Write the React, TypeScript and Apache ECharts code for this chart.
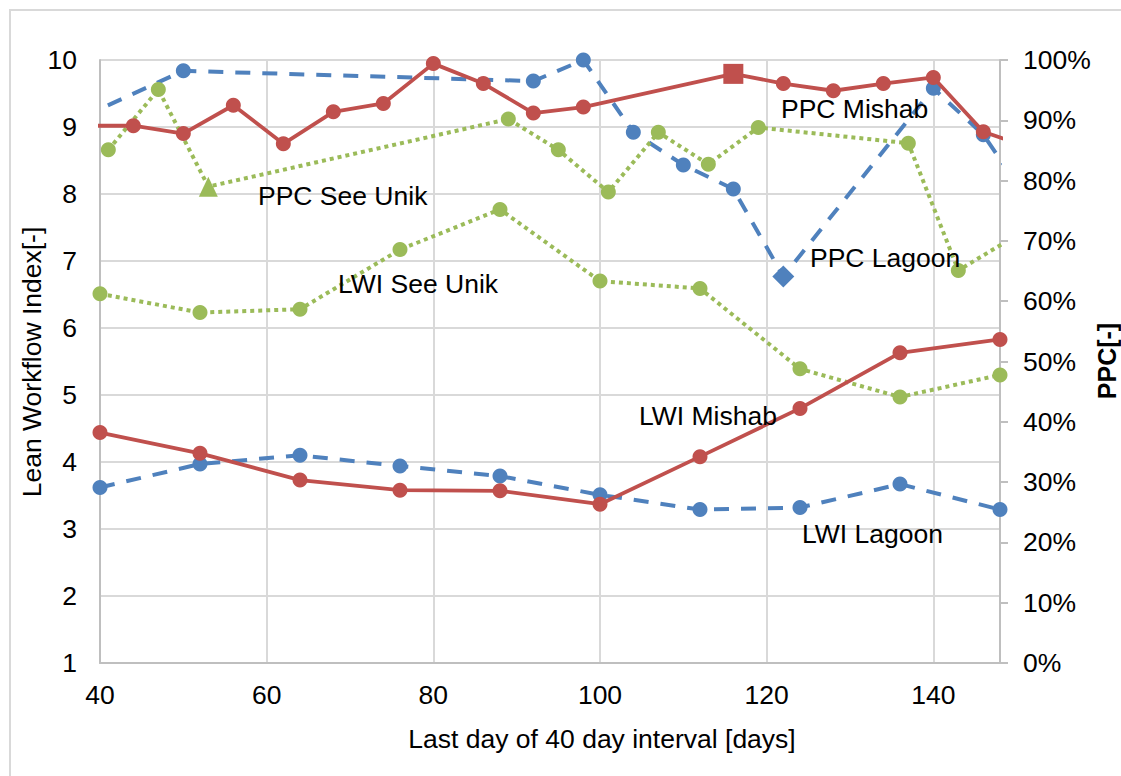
import React, { useEffect, useRef } from "react";
import * as echarts from "echarts";

// ---- Data ----
// PPC series (right axis, %)
const ppcMishabDays = [38, 44, 50, 56, 62, 68, 74, 80, 86, 92, 98, 116, 122, 128, 134, 140, 146, 152];
const ppcMishabValues = [89.1, 89.1, 87.8, 92.5, 86.1, 91.4, 92.8, 99.4, 96.1, 91.2, 92.2, 97.7, 96.1, 94.9, 96.1, 97.1, 88.1, 85.3];

const ppcLagoonDays = [38, 50, 92, 98, 104, 110, 116, 122, 140, 146, 152];
const ppcLagoonValues = [90.6, 98.2, 96.5, 100.0, 88.0, 82.6, 78.6, 64.1, 95.3, 87.6, 75.5];

const ppcSeeUnikDays = [41, 47, 53, 89, 95, 101, 107, 113, 119, 137, 143, 149];
const ppcSeeUnikValues = [85.1, 95.1, 79.0, 90.2, 85.1, 78.1, 88.0, 82.7, 88.8, 86.2, 65.1, 70.1];

// LWI series (left axis)
const lwiDays = [40, 52, 64, 76, 88, 100, 112, 124, 136, 148];
const lwiMishabValues = [4.44, 4.13, 3.73, 3.58, 3.57, 3.37, 4.08, 4.8, 5.63, 5.83];
const lwiLagoonValues = [3.62, 3.97, 4.1, 3.94, 3.79, 3.51, 3.29, 3.32, 3.67, 3.29];
const lwiSeeUnikValues = [6.51, 6.23, 6.28, 7.17, 7.77, 6.7, 6.59, 5.39, 4.97, 5.3];

// Highlighted points
const mishabSquareDay = 116;
const lagoonDiamondDay = 122;
const seeUnikTriangleDay = 53;

// Axis ranges
const xMin = 40;
const xMax = 148;
const xInterval = 20;
const lwiMin = 1;
const lwiMax = 10;
const ppcMin = 0;
const ppcMax = 100;

// Series labels
const seriesLabels = [
  { text: "PPC See Unik", x: 258, y: 196 },
  { text: "LWI See Unik", x: 338, y: 284 },
  { text: "PPC Mishab", x: 781, y: 109 },
  { text: "PPC Lagoon", x: 810, y: 258 },
  { text: "LWI Mishab", x: 639, y: 416 },
  { text: "LWI Lagoon", x: 802, y: 534 },
];

const RED = "#C0504D";
const BLUE = "#4F81BD";
const GREEN = "#9BBB59";
const FONT = "'Liberation Sans', Arial, Helvetica, sans-serif";
const FS = 26.5;

function zip(days: number[], vals: number[], special?: { day: number; symbol: string; size: any }) {
  return days.map((d, i) => {
    if (special && d === special.day) {
      return { value: [d, vals[i]], symbol: special.symbol, symbolSize: special.size };
    }
    return [d, vals[i]];
  });
}

export default function App() {
  const ref = useRef<HTMLDivElement>(null);

  useEffect(() => {
    if (!ref.current) return;
    const chart = echarts.init(ref.current, null, { renderer: "svg" });

    const dashed = { color: BLUE, width: 4, type: [15, 12] as any };
    const dotted = { color: GREEN, width: 4, type: [4, 4] as any };
    const solid = { color: RED, width: 3.8, type: "solid" as any };

    const option: any = {
      animation: false,
      backgroundColor: "#ffffff",
      textStyle: { fontFamily: FONT },
      grid: { left: 100, right: 121, top: 60, bottom: 113, containLabel: false },
      xAxis: {
        type: "value",
        min: xMin,
        max: xMax,
        interval: xInterval,
        axisLine: { show: true, lineStyle: { color: "#bfbfbf", width: 2 } },
        axisTick: { show: false },
        axisLabel: { color: "#000", fontSize: FS, fontFamily: FONT, margin: 18, showMaxLabel: false },
        splitLine: { show: true, lineStyle: { color: "#d9d9d9", width: 2 } },
      },
      yAxis: [
        {
          type: "value",
          min: lwiMin,
          max: lwiMax,
          interval: 1,
          position: "left",
          axisLine: { show: true, lineStyle: { color: "#bfbfbf", width: 2 } },
          axisTick: { show: false },
          axisLabel: { color: "#000", fontSize: FS, fontFamily: FONT, margin: 23 },
          splitLine: { show: true, lineStyle: { color: "#d9d9d9", width: 2 } },
        },
        {
          type: "value",
          min: ppcMin,
          max: ppcMax,
          interval: 10,
          position: "right",
          axisLine: { show: true, lineStyle: { color: "#bfbfbf", width: 2 } },
          axisTick: { show: true, inside: false, length: 8, lineStyle: { color: "#bfbfbf", width: 2 } },
          axisLabel: { color: "#000", fontSize: FS, fontFamily: FONT, margin: 23, formatter: "{value}%" },
          splitLine: { show: false },
        },
      ],
      series: [
        {
          name: "PPC Lagoon",
          type: "line",
          yAxisIndex: 1,
          data: zip(ppcLagoonDays, ppcLagoonValues, { day: lagoonDiamondDay, symbol: "diamond", size: 22 }),
          symbol: "circle",
          symbolSize: 15,
          lineStyle: dashed,
          itemStyle: { color: BLUE },
          clip: true,
          z: 2,
        },
        {
          name: "LWI Lagoon",
          type: "line",
          yAxisIndex: 0,
          data: zip(lwiDays, lwiLagoonValues),
          symbol: "circle",
          symbolSize: 15,
          lineStyle: dashed,
          itemStyle: { color: BLUE },
          clip: true,
          z: 2,
        },
        {
          name: "PPC See Unik",
          type: "line",
          yAxisIndex: 1,
          data: zip(ppcSeeUnikDays, ppcSeeUnikValues, { day: seeUnikTriangleDay, symbol: "triangle", size: [19, 20] }),
          symbol: "circle",
          symbolSize: 15,
          lineStyle: dotted,
          itemStyle: { color: GREEN },
          clip: true,
          z: 3,
        },
        {
          name: "LWI See Unik",
          type: "line",
          yAxisIndex: 0,
          data: zip(lwiDays, lwiSeeUnikValues),
          symbol: "circle",
          symbolSize: 15,
          lineStyle: dotted,
          itemStyle: { color: GREEN },
          clip: true,
          z: 3,
        },
        {
          name: "PPC Mishab",
          type: "line",
          yAxisIndex: 1,
          data: zip(ppcMishabDays, ppcMishabValues, { day: mishabSquareDay, symbol: "rect", size: 20 }),
          symbol: "circle",
          symbolSize: 15,
          lineStyle: solid,
          itemStyle: { color: RED },
          clip: true,
          z: 4,
        },
        {
          name: "LWI Mishab",
          type: "line",
          yAxisIndex: 0,
          data: zip(lwiDays, lwiMishabValues),
          symbol: "circle",
          symbolSize: 15,
          lineStyle: solid,
          itemStyle: { color: RED },
          clip: true,
          z: 4,
        },
      ],
      graphic: [
        {
          type: "rect",
          shape: { x: 10, y: 10, width: 1200, height: 900 },
          style: { fill: "none", stroke: "#d9d9d9", lineWidth: 2 },
          silent: true,
          z: -1,
        },
        {
          type: "text",
          x: 32,
          y: 362,
          rotation: Math.PI / 2,
          style: {
            text: "Lean Workflow Index[-]",
            fill: "#000",
            font: `${FS}px ${FONT}`,
            textAlign: "center",
            textVerticalAlign: "middle",
          },
        },
        {
          type: "text",
          x: 1107,
          y: 361,
          rotation: Math.PI / 2,
          style: {
            text: "PPC[-]",
            fill: "#000",
            font: `bold 25px ${FONT}`,
            textAlign: "center",
            textVerticalAlign: "middle",
          },
        },
        {
          type: "text",
          x: 602,
          y: 739,
          style: {
            text: "Last day of 40 day interval [days]",
            fill: "#000",
            font: `${FS}px ${FONT}`,
            textAlign: "center",
            textVerticalAlign: "middle",
          },
        },
        ...seriesLabels.map((l) => ({
          type: "text",
          x: l.x,
          y: l.y,
          z: 10,
          style: {
            text: l.text,
            fill: "#000",
            font: `${FS}px ${FONT}`,
            textAlign: "left",
            textVerticalAlign: "middle",
          },
        })),
      ],
    };

    chart.setOption(option);
    return () => chart.dispose();
  }, []);

  return (
    <div
      ref={ref}
      style={{ position: "absolute", left: 0, top: 0, width: 1121, height: 776, background: "#fff" }}
    />
  );
}
